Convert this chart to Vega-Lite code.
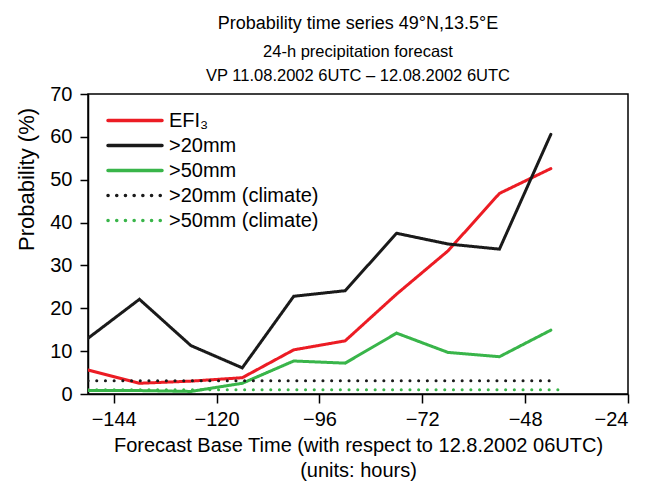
{
  "$schema": "https://vega.github.io/schema/vega-lite/v6.json",
  "autosize": {"type": "none"},
  "padding": {"left": 88, "top": 94, "right": 21, "bottom": 87},
  "width": 540,
  "height": 300,
  "background": "white",
  "title": {
    "text": "Probability time series 49°N,13.5°E",
    "subtitle": ["24-h precipitation forecast", "VP 11.08.2002 6UTC – 12.08.2002 6UTC"],
    "anchor": "middle",
    "font": "Liberation Sans",
    "fontSize": 18,
    "fontWeight": "normal",
    "color": "black",
    "subtitleFont": "Liberation Sans",
    "subtitleFontSize": 16.5,
    "subtitleColor": "black",
    "subtitleLineHeight": 24,
    "subtitlePadding": 11,
    "offset": 0
  },
  "config": {
    "view": {"stroke": "black", "strokeWidth": 1.5},
    "axis": {
      "labelFont": "Liberation Sans",
      "titleFont": "Liberation Sans",
      "labelFontSize": 20,
      "titleFontSize": 20,
      "titleFontWeight": "normal",
      "labelColor": "black",
      "titleColor": "black",
      "domainColor": "black",
      "domainWidth": 1.5,
      "tickColor": "black",
      "tickWidth": 1.5,
      "tickSize": 8,
      "grid": false
    },
    "legend": {
      "labelFont": "Liberation Sans",
      "labelFontSize": 20,
      "labelColor": "black"
    }
  },
  "data": {
    "values": [
      {"series": "EFI₃", "hours": -150, "value": 5.6},
      {"series": "EFI₃", "hours": -138, "value": 2.5},
      {"series": "EFI₃", "hours": -126, "value": 3.0},
      {"series": "EFI₃", "hours": -114, "value": 3.8},
      {"series": "EFI₃", "hours": -102, "value": 10.3},
      {"series": "EFI₃", "hours": -90, "value": 12.4},
      {"series": "EFI₃", "hours": -78, "value": 23.3},
      {"series": "EFI₃", "hours": -66, "value": 33.4},
      {"series": "EFI₃", "hours": -54, "value": 46.8},
      {"series": "EFI₃", "hours": -42, "value": 52.6},
      {"series": ">20mm", "hours": -150, "value": 13.0},
      {"series": ">20mm", "hours": -138, "value": 22.1},
      {"series": ">20mm", "hours": -126, "value": 11.3},
      {"series": ">20mm", "hours": -114, "value": 6.1},
      {"series": ">20mm", "hours": -102, "value": 22.8},
      {"series": ">20mm", "hours": -90, "value": 24.1},
      {"series": ">20mm", "hours": -78, "value": 37.5},
      {"series": ">20mm", "hours": -66, "value": 35.0},
      {"series": ">20mm", "hours": -54, "value": 33.8},
      {"series": ">20mm", "hours": -42, "value": 60.6},
      {"series": ">50mm", "hours": -150, "value": 0.8},
      {"series": ">50mm", "hours": -138, "value": 0.8},
      {"series": ">50mm", "hours": -126, "value": 0.6},
      {"series": ">50mm", "hours": -114, "value": 2.5},
      {"series": ">50mm", "hours": -102, "value": 7.7},
      {"series": ">50mm", "hours": -90, "value": 7.2},
      {"series": ">50mm", "hours": -78, "value": 14.2},
      {"series": ">50mm", "hours": -66, "value": 9.7},
      {"series": ">50mm", "hours": -54, "value": 8.7},
      {"series": ">50mm", "hours": -42, "value": 14.9},
      {"series": ">20mm (climate)", "hours": -150, "value": 3.1},
      {"series": ">20mm (climate)", "hours": -42, "value": 3.1},
      {"series": ">50mm (climate)", "hours": -150, "value": 1.0},
      {"series": ">50mm (climate)", "hours": -40, "value": 1.0}
    ]
  },
  "mark": {"type": "line", "strokeWidth": 3, "strokeCap": "round", "clip": true},
  "encoding": {
    "x": {
      "field": "hours",
      "type": "quantitative",
      "scale": {"domain": [-150, -24], "nice": false, "zero": false},
      "axis": {
        "values": [-144, -120, -96, -72, -48, -24],
        "tickSize": 9,
        "labelPadding": 6,
        "title": ["Forecast Base Time (with respect to 12.8.2002 06UTC)", "(units: hours)"],
        "titleLineHeight": 25,
        "titlePadding": 6
      }
    },
    "y": {
      "field": "value",
      "type": "quantitative",
      "scale": {"domain": [0, 70], "nice": false},
      "axis": {
        "values": [0, 10, 20, 30, 40, 50, 60, 70],
        "labelPadding": 8,
        "title": "Probability (%)",
        "titleFontSize": 22,
        "titleY": 85,
        "titlePadding": 11
      }
    },
    "color": {
      "field": "series",
      "type": "nominal",
      "scale": {
        "domain": ["EFI₃", ">20mm", ">50mm", ">20mm (climate)", ">50mm (climate)"],
        "range": ["#ec1c24", "#1a1a1a", "#39b54a", "#1a1a1a", "#39b54a"]
      },
      "legend": {
        "title": null,
        "orient": "none",
        "legendX": 18,
        "legendY": 14,
        "symbolType": "stroke",
        "symbolSize": 2916,
        "symbolStrokeWidth": 3.5,
        "labelOffset": 5,
        "clipHeight": 25,
        "rowPadding": 0,
        "encode": {"symbols": {"update": {"strokeCap": {"value": "round"}}}}
      }
    },
    "strokeDash": {
      "field": "series",
      "type": "nominal",
      "scale": {
        "domain": ["EFI₃", ">20mm", ">50mm", ">20mm (climate)", ">50mm (climate)"],
        "range": [[1, 0], [1, 0], [1, 0], [0.1, 8.6], [0.1, 8.6]]
      },
      "legend": {
        "title": null,
        "orient": "none",
        "legendX": 18,
        "legendY": 14,
        "symbolType": "stroke",
        "symbolSize": 2916,
        "symbolStrokeWidth": 3.5,
        "labelOffset": 5,
        "clipHeight": 25,
        "rowPadding": 0,
        "encode": {"symbols": {"update": {"strokeCap": {"value": "round"}}}}
      }
    }
  }
}
